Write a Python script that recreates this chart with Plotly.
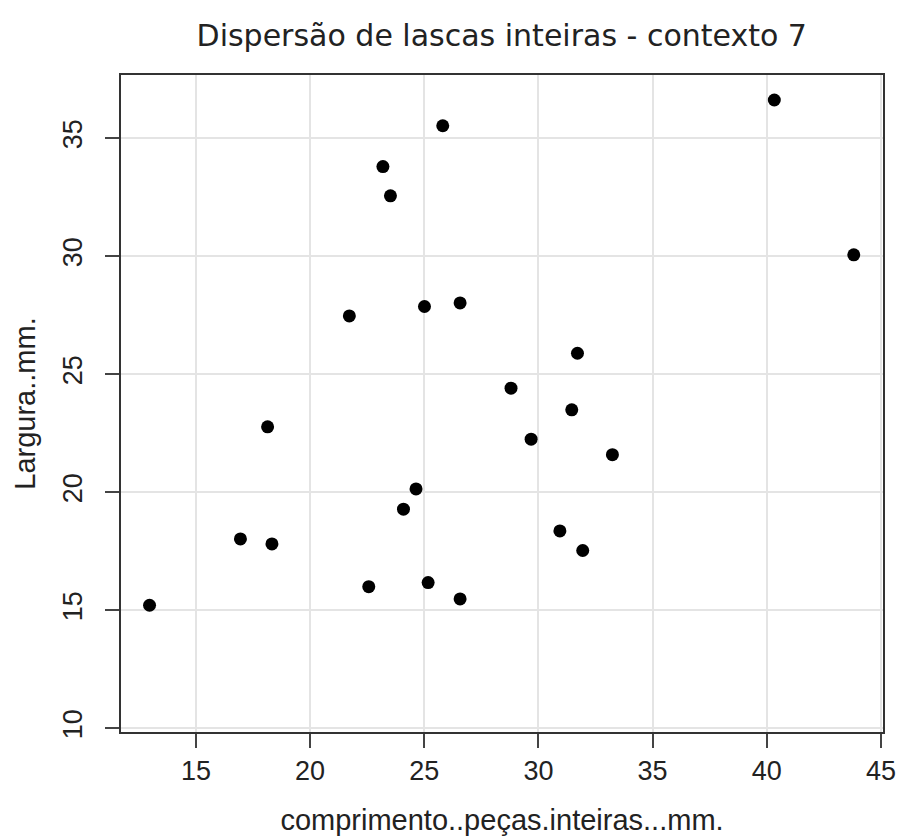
import plotly.graph_objects as go

# Comprimento e largura (mm) das lascas inteiras do contexto 7
comprimento = [12.97, 16.95, 18.14, 18.33, 21.72, 22.57, 23.19, 23.52, 24.09, 24.64,
               25.01, 25.17, 25.81, 26.57, 26.57, 28.80, 29.68, 30.94, 31.46, 31.71,
               31.94, 33.24, 40.33, 43.81]
largura = [15.21, 18.02, 22.77, 17.81, 27.47, 16.00, 33.80, 32.56, 19.28, 20.14,
           27.87, 16.17, 35.53, 28.02, 15.48, 24.41, 22.25, 18.36, 23.49, 25.89,
           17.53, 21.59, 36.62, 30.06]

x_ticks = [15, 20, 25, 30, 35, 40, 45]
y_ticks = [10, 15, 20, 25, 30, 35]

titulo = "Dispersão de lascas inteiras - contexto 7"
rotulo_x = "comprimento..peças.inteiras...mm."
rotulo_y = "Largura..mm."

tick_font = dict(family="Liberation Sans, Arial, sans-serif", size=27, color="#222222")
label_font = dict(family="Liberation Sans, Arial, sans-serif", size=29, color="#222222")

fig = go.Figure(
    go.Scatter(
        x=comprimento,
        y=largura,
        mode="markers",
        marker=dict(color="black", size=13, line=dict(width=0)),
        hoverinfo="x+y",
    )
)

axis_common = dict(
    automargin=False,
    showgrid=True,
    gridcolor="#e4e4e4",
    gridwidth=1.5,
    zeroline=False,
    showline=True,
    linecolor="#333333",
    linewidth=2,
    mirror=True,
    ticks="outside",
    ticklen=14,
    tickwidth=1.5,
    tickcolor="#444444",
    tickfont=tick_font,
)

fig.update_xaxes(
    range=[11.72, 45.09],
    tickmode="array",
    tickvals=x_ticks,
    ticktext=[str(v) for v in x_ticks],
    title=dict(text=rotulo_x, font=label_font, standoff=28),
    **axis_common,
)
fig.update_yaxes(
    range=[9.84, 37.68],
    tickmode="array",
    tickvals=y_ticks,
    ticktext=[str(v) for v in y_ticks],
    tickangle=-90,
    ticklabelstandoff=12,
    title=dict(text=rotulo_y, font=label_font, standoff=14),
    **axis_common,
)

fig.update_layout(
    width=901,
    height=836,
    margin=dict(l=120.5, r=18, t=75, b=104, pad=0),
    paper_bgcolor="white",
    plot_bgcolor="white",
    showlegend=False,
    title=dict(
        text=titulo,
        automargin=False,
        x=(120.5 + 883) / 2 / 901,
        xanchor="center",
        y=1 - 35 / 836,
        yanchor="middle",
        font=dict(family="DejaVu Sans", size=30, color="#222222"),
    ),
)

fig.write_html("out.html")
